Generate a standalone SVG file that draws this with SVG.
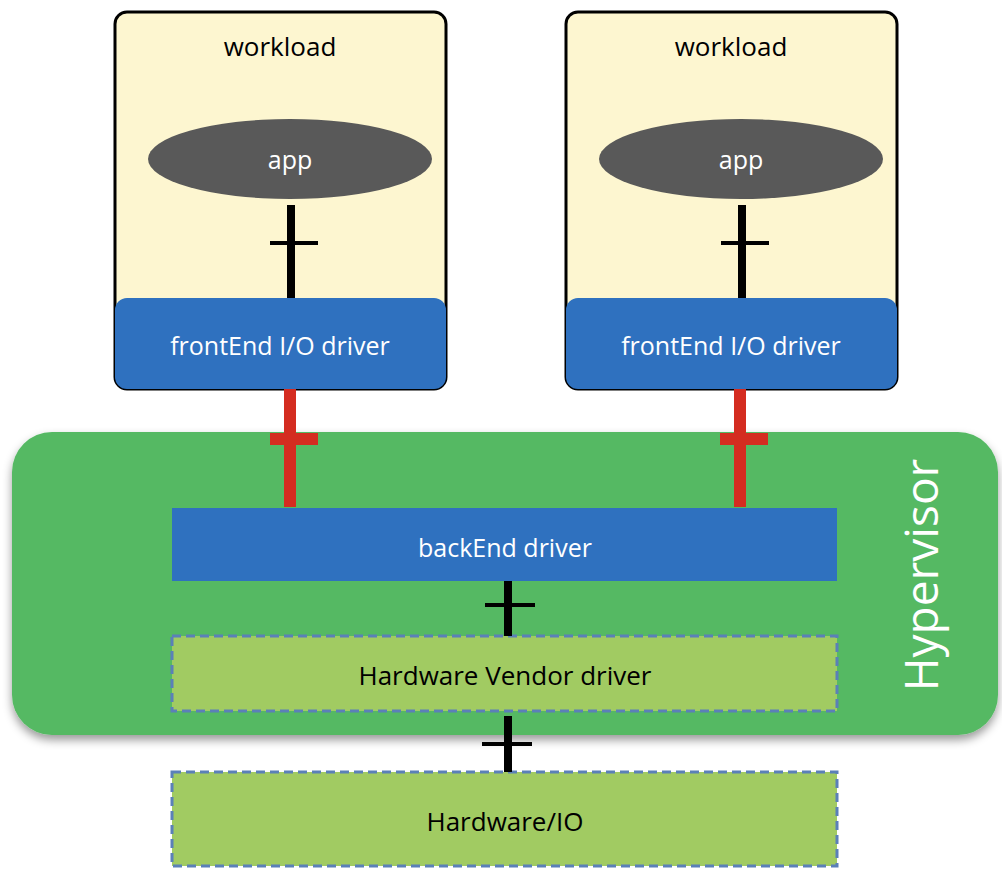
<svg xmlns="http://www.w3.org/2000/svg" width="1002" height="876" viewBox="0 0 1002 876">
<defs>
<style>
text{font-family:"Open Sans","Liberation Sans",sans-serif;text-anchor:middle;dominant-baseline:central}
.wl{fill:#fdf6d0;stroke:#000;stroke-width:3}
.fe{fill:#2f71bf}
.wt{fill:#fff;font-size:25px}
.bt{fill:#000;font-size:26px}
.hw{fill:#a1cb62;stroke:#5b80b8;stroke-width:3;stroke-dasharray:9 5}
.blk{stroke:#000;stroke-width:8}
.blkc{stroke:#000;stroke-width:4}
.red{stroke:#d42c20;stroke-width:12}
</style>
<filter id="sh" x="-5%" y="-5%" width="110%" height="115%"><feDropShadow dx="0" dy="5" stdDeviation="5" flood-opacity="0.4"/></filter>
</defs>
<g id="hypervisor">
<rect x="12" y="432" width="986" height="303" rx="40" fill="#55b964" filter="url(#sh)"/>
<text x="920" y="575" transform="rotate(-90 920 575)" fill="#fff" font-size="46">Hypervisor</text>
</g>
<g id="workload1">
<rect class="wl" x="115" y="12" width="331" height="377" rx="12"/>
<text class="bt" x="280" y="46" font-size="25">workload</text>
</g>
<g id="app1"><ellipse cx="290" cy="159" rx="142" ry="40" fill="#595959"/><text class="wt" x="290" y="159">app</text></g>
<g id="frontend1"><rect class="fe" x="115" y="298" width="331" height="91" rx="12"/><text class="wt" x="280" y="345">frontEnd I/O driver</text></g>
<g id="workload2">
<rect class="wl" x="566" y="12" width="331" height="377" rx="12"/>
<text class="bt" x="731" y="46" font-size="25">workload</text>
</g>
<g id="app2"><ellipse cx="741" cy="159" rx="142" ry="40" fill="#595959"/><text class="wt" x="741" y="159">app</text></g>
<g id="frontend2"><rect class="fe" x="566" y="298" width="331" height="91" rx="12"/><text class="wt" x="731" y="345">frontEnd I/O driver</text></g>
<g id="backend"><rect class="fe" x="172" y="508" width="665" height="73"/><text class="wt" x="505" y="547">backEnd driver</text></g>
<g id="vendor"><rect class="hw" x="172" y="636" width="665" height="75"/><text class="bt" x="505" y="675">Hardware Vendor driver</text></g>
<g id="hardware"><rect class="hw" x="172" y="772" width="665" height="94"/><text class="bt" x="505" y="821">Hardware/IO</text></g>
<g id="connectors">
<line class="blk" x1="291" y1="205" x2="291" y2="298"/><line class="blkc" x1="270" y1="243" x2="318" y2="243"/>
<line class="blk" x1="742" y1="205" x2="742" y2="298"/><line class="blkc" x1="721" y1="243" x2="769" y2="243"/>
<line class="red" x1="290" y1="389" x2="290" y2="507"/><line class="red" x1="270" y1="439" x2="318" y2="439"/>
<line class="red" x1="740" y1="389" x2="740" y2="507"/><line class="red" x1="720" y1="439" x2="768" y2="439"/>
<line class="blk" x1="508" y1="581" x2="508" y2="636"/><line class="blkc" x1="485" y1="605" x2="535" y2="605"/>
<line class="blk" x1="508" y1="716" x2="508" y2="772"/><line class="blkc" x1="482" y1="744" x2="532" y2="744"/>
</g>
</svg>
